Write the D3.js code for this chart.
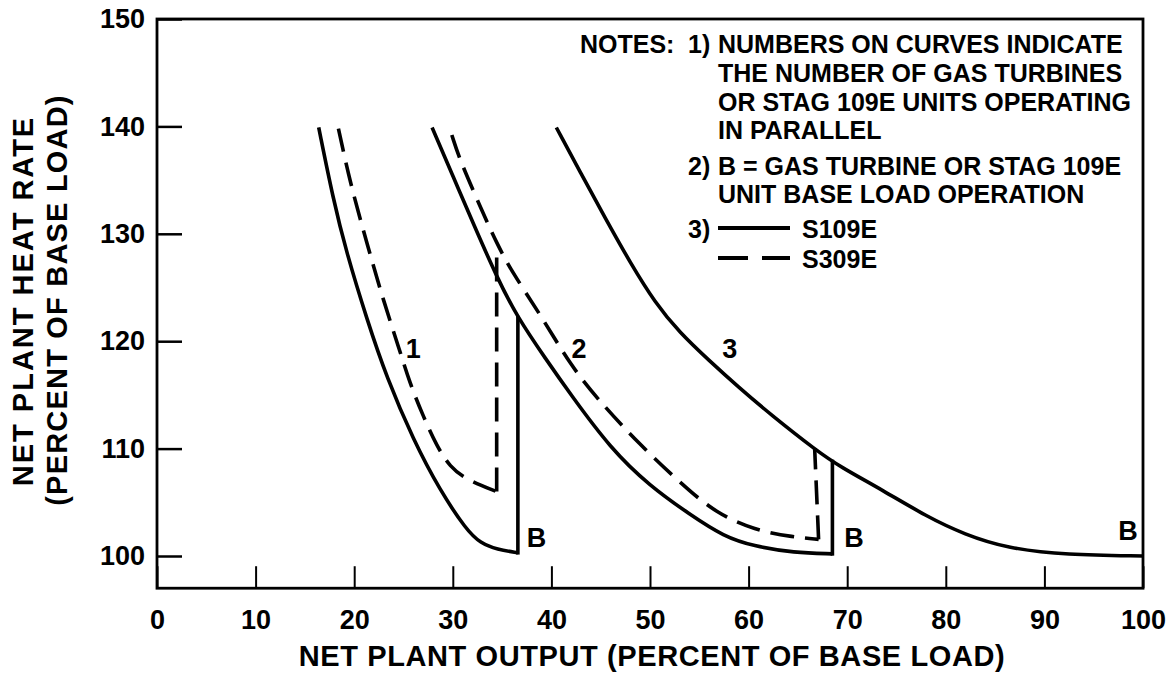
<!DOCTYPE html>
<html>
<head>
<meta charset="utf-8">
<script src="https://cdn.jsdelivr.net/npm/d3@7"></script>
<style>
  body { margin: 0; background: #fff; }
  text { font-family: "Liberation Sans", Arial, sans-serif; font-weight: bold; fill: #000; }
</style>
</head>
<body>
<svg id="chart" width="1172" height="677"></svg>
<script>
// tick values
var xTicks = [0, 10, 20, 30, 40, 50, 60, 70, 80, 90, 100];
var yTicks = [100, 110, 120, 130, 140, 150];

// S109E curves (solid), [output %, heat rate %]
var s109e1 = [[16.4,139.9],[17.85,133.3],[19.2,128.3],[21.3,122.0],[23.3,116.6],[26.0,110.8],[28.7,106.1],[31.4,102.4],[32.8,101.2],[34.5,100.6],[36.6,100.3]];
var s109e2 = [[27.9,139.9],[30.05,135.3],[32.1,130.9],[34.45,126.0],[36.5,122.3],[39.5,118.25],[41.9,115.1],[46.0,110.0],[50.0,106.5],[54.0,103.9],[57.5,101.8],[60.6,100.9],[64.6,100.3],[68.5,100.2]];
var s109e3 = [[40.5,139.9],[43.0,135.6],[45.5,131.4],[48.0,127.3],[50.5,123.6],[53.0,120.8],[56.0,118.2],[59.0,115.7],[62.2,113.2],[66.9,109.8],[69.3,108.3],[73.65,106.1],[78.0,103.7],[81.9,102.0],[86.3,100.7],[92.2,100.1],[100,100.0]];
var s109eJumps = [[[36.6,100.3],[36.6,122.2]], [[68.5,100.2],[68.5,108.8]]];

// S309E curves (dashed)
var s309e1 = [[18.4,139.8],[19.6,134.7],[21.3,129.1],[22.95,123.8],[24.6,119.2],[25.6,116.2],[27.0,113.0],[28.4,110.2],[29.7,108.3],[31.4,107.1],[34.45,106.0]];
var s309e2 = [[29.9,139.2],[30.7,136.9],[32.8,132.5],[34.45,129.1],[36.1,126.3],[38.8,122.6],[42.05,117.6],[44.8,114.5],[48.8,110.5],[53.5,106.45],[56.7,104.0],[60.6,102.4],[64.6,101.75],[67.1,101.55]];
var s309eJumps = [[[34.45,106.0],[34.45,128.6]], [[67.1,101.55],[66.7,110.0]]];

// curve labels
var curveLabels = [
  {text: "1", x: 26.0, y: 118.4, anchor: "middle"},
  {text: "2", x: 42.8, y: 118.4, anchor: "middle"},
  {text: "3", x: 58.1, y: 118.4, anchor: "middle"},
  {text: "B", x: 37.5, y: 100.85, anchor: "start"},
  {text: "B", x: 69.7, y: 100.85, anchor: "start"},
  {text: "B", x: 97.5, y: 101.5, anchor: "start"}
];

var notes = [
  {num: "1)", lines: ["NUMBERS ON CURVES INDICATE", "THE NUMBER OF GAS TURBINES", "OR STAG 109E UNITS OPERATING", "IN PARALLEL"], y: [53, 82, 111, 139]},
  {num: "2)", lines: ["B = GAS TURBINE OR STAG 109E", "UNIT BASE LOAD OPERATION"], y: [175, 203]}
];
var legendItems = ["S109E", "S309E"];

var svg = d3.select("#chart");

var x = d3.scaleLinear().domain([0, 100]).range([157, 1143]);
var y = d3.scaleLinear().domain([100, 150]).range([556, 19]);
var bottom = y(97);

// frame
svg.append("rect")
  .attr("x", x(0)).attr("y", y(150))
  .attr("width", x(100) - x(0)).attr("height", bottom - y(150))
  .attr("fill", "none").attr("stroke", "#000").attr("stroke-width", 2.8);

// y axis
var yAxis = svg.append("g")
  .attr("transform", "translate(" + x(0) + ",0)")
  .call(d3.axisLeft(y).tickValues(yTicks).tickSize(-25).tickPadding(12));
yAxis.select(".domain").remove();
yAxis.selectAll("line").attr("stroke", "#000").attr("stroke-width", 2.5);
yAxis.selectAll("text").attr("font-size", 27).style("font-family", "'Liberation Sans', Arial, sans-serif").style("font-weight", "bold");

// x axis
var xAxis = svg.append("g")
  .attr("transform", "translate(0," + bottom + ")")
  .call(d3.axisBottom(x).tickValues(xTicks).tickSize(-22).tickPadding(22));
xAxis.select(".domain").remove();
xAxis.selectAll("line").attr("stroke", "#000").attr("stroke-width", 2);
xAxis.selectAll("text").attr("font-size", 27).style("font-family", "'Liberation Sans', Arial, sans-serif").style("font-weight", "bold");

// axis titles
svg.append("text")
  .attr("x", 652).attr("y", 666)
  .attr("text-anchor", "middle").attr("font-size", 29).attr("letter-spacing", 0.6)
  .text("NET PLANT OUTPUT (PERCENT OF BASE LOAD)");

svg.append("text")
  .attr("transform", "translate(33,301) rotate(-90)")
  .attr("text-anchor", "middle").attr("font-size", 29).attr("letter-spacing", 2)
  .text("NET PLANT HEAT RATE");

svg.append("text")
  .attr("transform", "translate(67,300) rotate(-90)")
  .attr("text-anchor", "middle").attr("font-size", 29).attr("letter-spacing", 1.2)
  .text("(PERCENT OF BASE LOAD)");

// curves
var smooth = d3.line().x(function(d) { return x(d[0]); }).y(function(d) { return y(d[1]); }).curve(d3.curveBasis);
var straight = d3.line().x(function(d) { return x(d[0]); }).y(function(d) { return y(d[1]); });

var plot = svg.append("g").attr("fill", "none").attr("stroke", "#000").attr("stroke-width", 3.6);

[s109e1, s109e2, s109e3].forEach(function(d) {
  plot.append("path").attr("d", smooth(d));
});
s109eJumps.forEach(function(d) {
  plot.append("path").attr("d", straight(d)).attr("stroke-linecap", "square");
});
[s309e1, s309e2].forEach(function(d) {
  plot.append("path").attr("d", smooth(d)).attr("stroke-dasharray", "24,11");
});
s309eJumps.forEach(function(d) {
  plot.append("path").attr("d", straight(d)).attr("stroke-dasharray", "24,11");
});

// labels on curves
svg.selectAll(".clabel")
  .data(curveLabels)
  .enter().append("text")
  .attr("class", "clabel")
  .attr("x", function(d) { return x(d.x); })
  .attr("y", function(d) { return y(d.y); })
  .attr("text-anchor", function(d) { return d.anchor; })
  .attr("font-size", 27)
  .text(function(d) { return d.text; });

// notes
var nt = svg.append("g").attr("font-size", 25);
nt.append("text").attr("x", 580).attr("y", 53).text("NOTES:");
notes.forEach(function(n) {
  nt.append("text").attr("x", 688).attr("y", n.y[0]).text(n.num);
  n.lines.forEach(function(l, i) {
    nt.append("text").attr("x", 718).attr("y", n.y[i]).text(l);
  });
});
nt.append("text").attr("x", 688).attr("y", 238).text("3)");

var legendY = [228, 258];
legendItems.forEach(function(l, i) {
  svg.append("line")
    .attr("x1", 718).attr("x2", 790)
    .attr("y1", legendY[i]).attr("y2", legendY[i])
    .attr("stroke", "#000").attr("stroke-width", 4)
    .attr("stroke-dasharray", i === 0 ? null : "30,14");
  nt.append("text").attr("x", 802).attr("y", legendY[i] + 10).text(l);
});
</script>
</body>
</html>
